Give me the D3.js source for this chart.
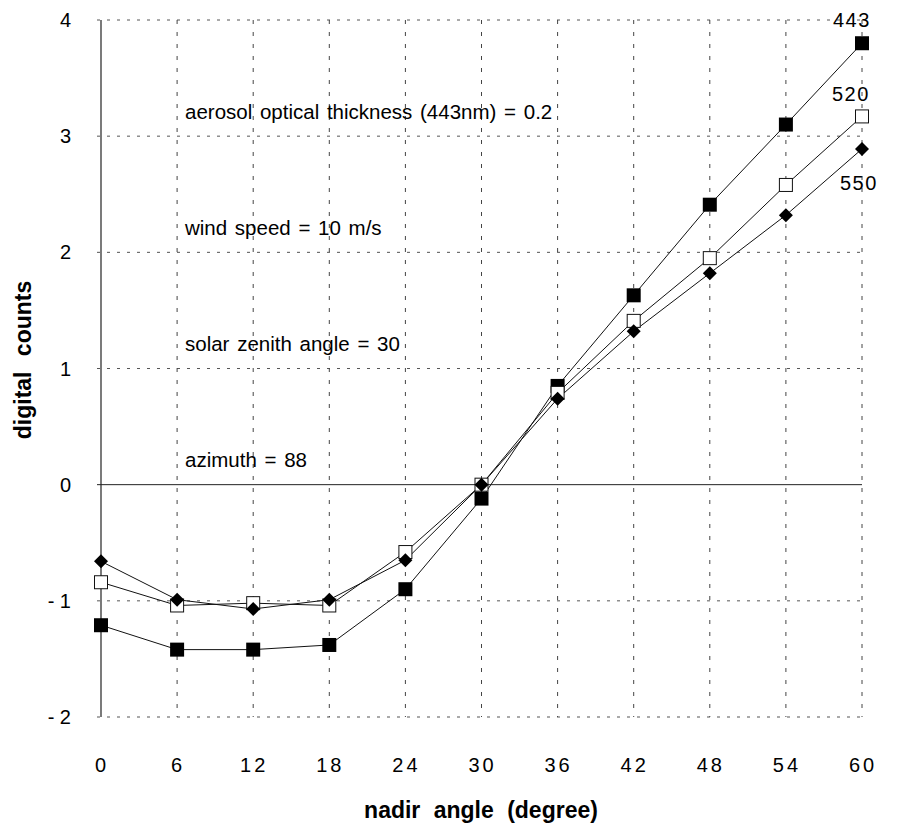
<!DOCTYPE html>
<html>
<head>
<meta charset="utf-8">
<script src="https://cdn.jsdelivr.net/npm/d3@7"></script>
<style>
  body { margin: 0; background: #fff; }
  svg { display: block; font-family: "Liberation Sans", Arial, sans-serif; }
</style>
</head>
<body>
<div id="chart"></div>
<script>
// nadir angles and digital counts per wavelength
const angles = [0, 6, 12, 18, 24, 30, 36, 42, 48, 54, 60];
const counts443 = [-1.21, -1.42, -1.42, -1.38, -0.90, -0.12, 0.85, 1.63, 2.41, 3.10, 3.80];
const counts520 = [-0.84, -1.04, -1.02, -1.04, -0.58, 0.00, 0.79, 1.41, 1.95, 2.58, 3.17];
const counts550 = [-0.66, -0.99, -1.07, -0.99, -0.65, 0.00, 0.74, 1.32, 1.82, 2.32, 2.89];
const yTicks = [-2, -1, 0, 1, 2, 3, 4];
const notes = [
  "aerosol optical thickness (443nm) = 0.2",
  "wind speed = 10 m/s",
  "solar zenith angle = 30",
  "azimuth = 88"
];

const dimension = {
  width: 907,
  height: 827,
  margin: { top: 20, right: 45, bottom: 110, left: 101 },
}
dimension.boundedWidth = dimension.width - dimension.margin.left - dimension.margin.right;
dimension.boundedHeight = dimension.height - dimension.margin.top - dimension.margin.bottom;

const xScale = d3.scaleLinear()
  .domain([0, 60])
  .range([0, dimension.boundedWidth])
const yScale = d3.scaleLinear()
  .domain([-2, 4])
  .range([dimension.boundedHeight, 0])

const svg = d3.select("#chart")
  .append("svg")
  .attr("width", dimension.width)
  .attr("height", dimension.height)

const bounds = svg.append("g")
  .attr("transform", `translate(${dimension.margin.left},${dimension.margin.top})`)

// GRID
bounds.selectAll(".hgrid")
  .data(yTicks.filter(d => d !== 0))
  .enter().append("line")
  .attr("x1", -4).attr("x2", dimension.boundedWidth)
  .attr("y1", d => yScale(d)).attr("y2", d => yScale(d))
  .attr("stroke", "#555").attr("stroke-width", 1)
  .attr("stroke-dasharray", "3,7")

bounds.selectAll(".vgrid")
  .data(angles.slice(1))
  .enter().append("line")
  .attr("x1", d => xScale(d)).attr("x2", d => xScale(d))
  .attr("y1", 0).attr("y2", dimension.boundedHeight)
  .attr("stroke", "#444").attr("stroke-width", 1)
  .attr("stroke-dasharray", "4,8")

// zero line and y axis line
bounds.append("line")
  .attr("x1", -4).attr("x2", dimension.boundedWidth)
  .attr("y1", yScale(0)).attr("y2", yScale(0))
  .attr("stroke", "#222").attr("stroke-width", 1)
bounds.append("line")
  .attr("x1", 0).attr("x2", 0)
  .attr("y1", 0).attr("y2", dimension.boundedHeight)
  .attr("stroke", "#222").attr("stroke-width", 1.2)

// TICK LABELS
bounds.selectAll(".ylab")
  .data(yTicks)
  .enter().append("text")
  .attr("x", -30)
  .attr("y", d => yScale(d) + 7)
  .attr("text-anchor", "end")
  .attr("font-size", 20)
  .text(d => d < 0 ? "- " + Math.abs(d) : d)

bounds.selectAll(".xlab")
  .data(angles)
  .enter().append("text")
  .attr("x", d => xScale(d) + 1)
  .attr("y", dimension.boundedHeight + 55)
  .attr("text-anchor", "middle")
  .attr("font-size", 20)
  .attr("letter-spacing", 3)
  .text(d => d)

// AXIS TITLES
svg.append("text")
  .attr("x", 481).attr("y", 818)
  .attr("text-anchor", "middle")
  .attr("font-size", 23)
  .attr("font-weight", "bold")
  .attr("word-spacing", 7)
  .text("nadir angle (degree)")

svg.append("text")
  .attr("transform", "translate(31,360) rotate(-90)")
  .attr("text-anchor", "middle")
  .attr("font-size", 23)
  .attr("font-weight", "bold")
  .attr("word-spacing", 9)
  .text("digital counts")

// NOTES
bounds.selectAll(".note")
  .data(notes)
  .enter().append("text")
  .attr("x", 84)
  .attr("y", (d, i) => yScale(3.15 - i))
  .attr("font-size", 20.5)
  .attr("word-spacing", 2)
  .text(d => d)

// LINES
const line = d3.line()
  .x((d, i) => xScale(angles[i]))
  .y(d => yScale(d))

const series = [
  { name: "443", values: counts443, shape: "fsquare" },
  { name: "520", values: counts520, shape: "osquare" },
  { name: "550", values: counts550, shape: "diamond" },
]

series.forEach(s => {
  bounds.append("path")
    .datum(s.values)
    .attr("d", line)
    .attr("fill", "none")
    .attr("stroke", "#111")
    .attr("stroke-width", 1)
})

series.forEach(s => {
  const g = bounds.append("g")
  s.values.forEach((v, i) => {
    const cx = xScale(angles[i]);
    const cy = yScale(v);
    if (s.shape === "fsquare") {
      g.append("rect")
        .attr("x", cx - 7).attr("y", cy - 7)
        .attr("width", 14).attr("height", 14)
        .attr("fill", "#000")
    } else if (s.shape === "osquare") {
      g.append("rect")
        .attr("x", cx - 6.5).attr("y", cy - 6.5)
        .attr("width", 13).attr("height", 13)
        .attr("fill", "#fff").attr("stroke", "#111").attr("stroke-width", 1)
    } else {
      g.append("path")
        .attr("d", `M${cx},${cy - 7}L${cx + 7},${cy}L${cx},${cy + 7}L${cx - 7},${cy}Z`)
        .attr("fill", "#000")
    }
  })
})

// SERIES LABELS
const labelPos = [
  { name: "443", dx: -29, dy: -16 },
  { name: "520", dx: -30, dy: -15 },
  { name: "550", dx: -22, dy: 41 },
]
labelPos.forEach((l, k) => {
  const s = series[k];
  bounds.append("text")
    .attr("x", xScale(angles[angles.length - 1]) + l.dx)
    .attr("y", yScale(s.values[s.values.length - 1]) + l.dy)
    .attr("font-size", 20)
    .attr("letter-spacing", 1.5)
    .text(l.name)
})
</script>
</body>
</html>
